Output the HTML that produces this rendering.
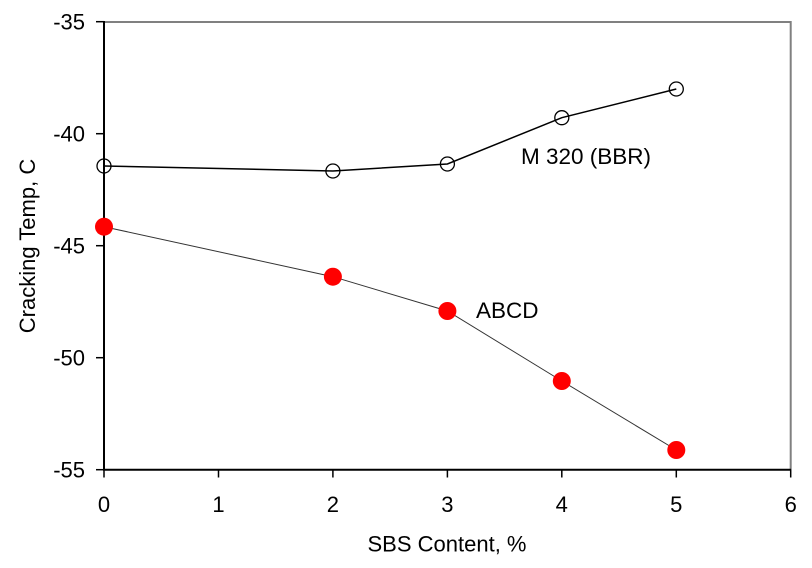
<!DOCTYPE html>
<html>
<head>
<meta charset="utf-8">
<style>
  html,body{margin:0;padding:0;background:#fff;}
  svg{display:block;}
  text{font-family:"Liberation Sans",Arial,sans-serif;fill:#000;}
</style>
</head>
<body>
<svg width="812" height="568" viewBox="0 0 812 568" xmlns="http://www.w3.org/2000/svg">
  <rect x="0" y="0" width="812" height="568" fill="#fff"/>
  <!-- plot frame: top/right gray -->
  <line x1="104" y1="22" x2="791" y2="22" stroke="#808080" stroke-width="2"/>
  <line x1="790.7" y1="21" x2="790.7" y2="470" stroke="#808080" stroke-width="2"/>
  <!-- left & bottom axes black -->
  <line x1="104" y1="21" x2="104" y2="470.5" stroke="#000" stroke-width="2"/>
  <line x1="103" y1="469.7" x2="791" y2="469.7" stroke="#000" stroke-width="2"/>

  <!-- y ticks -->
  <g stroke="#000" stroke-width="1.5">
    <line x1="96" y1="21.7" x2="104" y2="21.7"/>
    <line x1="96" y1="133.7" x2="104" y2="133.7"/>
    <line x1="96" y1="245.7" x2="104" y2="245.7"/>
    <line x1="96" y1="357.7" x2="104" y2="357.7"/>
    <line x1="96" y1="469.7" x2="104" y2="469.7"/>
  </g>
  <!-- x ticks -->
  <g stroke="#000" stroke-width="1.5">
    <line x1="104" y1="469.7" x2="104" y2="477.5"/>
    <line x1="218.5" y1="469.7" x2="218.5" y2="477.5"/>
    <line x1="332.9" y1="469.7" x2="332.9" y2="477.5"/>
    <line x1="447.4" y1="469.7" x2="447.4" y2="477.5"/>
    <line x1="561.8" y1="469.7" x2="561.8" y2="477.5"/>
    <line x1="676.3" y1="469.7" x2="676.3" y2="477.5"/>
    <line x1="790.7" y1="469.7" x2="790.7" y2="477.5"/>
  </g>

  <!-- y tick labels -->
  <g font-size="22" text-anchor="end">
    <text x="85" y="29.7">-35</text>
    <text x="85" y="141.7">-40</text>
    <text x="85" y="253.7">-45</text>
    <text x="85" y="365.7">-50</text>
    <text x="85" y="477.7">-55</text>
  </g>
  <!-- x tick labels -->
  <g font-size="22" text-anchor="middle">
    <text x="104" y="512">0</text>
    <text x="218.5" y="512">1</text>
    <text x="332.9" y="512">2</text>
    <text x="447.4" y="512">3</text>
    <text x="561.8" y="512">4</text>
    <text x="676.3" y="512">5</text>
    <text x="790.7" y="512">6</text>
  </g>

  <!-- axis titles -->
  <text x="447" y="551.5" font-size="22" text-anchor="middle">SBS Content, %</text>
  <text transform="translate(35,246) rotate(-90)" font-size="22" text-anchor="middle">Cracking Temp, C</text>

  <!-- ABCD series -->
  <polyline points="104,226.7 332.9,276.7 447.4,311 561.8,381 676.3,450" fill="none" stroke="#333" stroke-width="1"/>
  <g fill="#ff0000">
    <circle cx="104" cy="226.7" r="9"/>
    <circle cx="332.9" cy="276.7" r="9"/>
    <circle cx="447.4" cy="311" r="9"/>
    <circle cx="561.8" cy="381" r="9"/>
    <circle cx="676.3" cy="450" r="9"/>
  </g>

  <!-- M320 series -->
  <polyline points="104,166 332.9,171 447.4,164 561.8,117.7 676.3,89" fill="none" stroke="#000" stroke-width="1.5"/>
  <g fill="none" stroke="#000" stroke-width="1.3">
    <circle cx="104" cy="166" r="7"/>
    <circle cx="332.9" cy="171" r="7"/>
    <circle cx="447.4" cy="164" r="7"/>
    <circle cx="561.8" cy="117.7" r="7"/>
    <circle cx="676.3" cy="89" r="7"/>
  </g>

  <!-- annotations -->
  <text x="521" y="164" font-size="22.5">M 320 (BBR)</text>
  <text x="476" y="318" font-size="22.5">ABCD</text>
</svg>
</body>
</html>
